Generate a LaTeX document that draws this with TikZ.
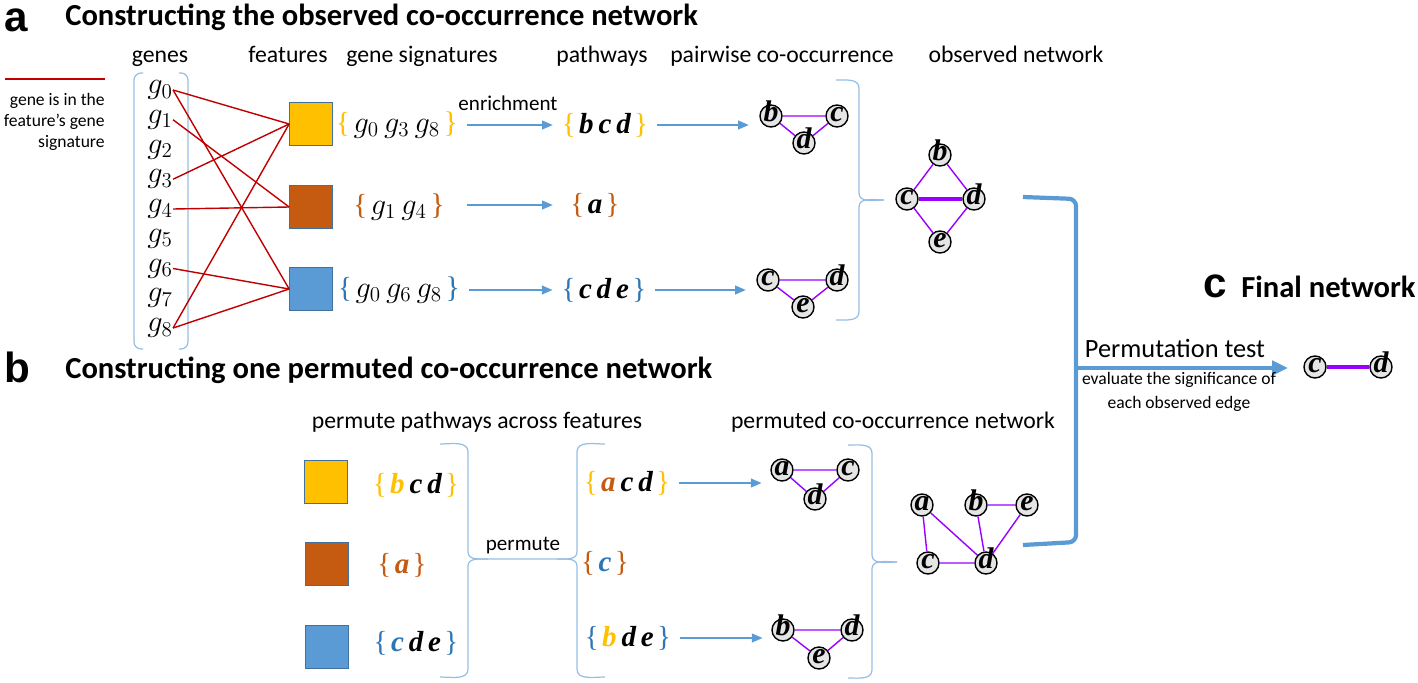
\documentclass[tikz,border=0pt]{standalone}
\usepackage[no-math]{fontspec}
\setmainfont{Carlito}
\newfontfamily\panelfont{Liberation Sans}
\newfontfamily\termfont{Liberation Serif}
\usepackage{bm}
\usetikzlibrary{arrows.meta}

\definecolor{featyellow}{RGB}{255,192,0}
\definecolor{featbrown}{RGB}{197,90,17}
\definecolor{featblue}{RGB}{91,155,213}
\definecolor{featborder}{RGB}{65,113,156}
\definecolor{setblue}{RGB}{46,117,182}
\definecolor{edgered}{RGB}{192,0,0}
\definecolor{netpurple}{RGB}{153,0,255}
\definecolor{bracelight}{RGB}{150,190,228}

\newcommand{\pset}[2]{{\color{#1}\{}\hspace{0.12em}#2\hspace{0.12em}{\color{#1}\}}}
\newcommand{\vtx}[1]{{\termfont\bfseries\itshape #1}}

\begin{document}
\begin{tikzpicture}[x=0.02cm, y=-0.02cm]
    \tikzstyle{gene} = [inner sep=0pt, font=\fontsize{17}{20}\selectfont]
    \tikzstyle{feat} = [rectangle, draw=featborder, line width=0.7pt, inner sep=0pt, minimum size=8.5mm]
    \tikzstyle{pway} = [inner sep=1pt, font=\termfont\fontsize{16.5}{20}\selectfont]
    \tikzstyle{term} = [circle, draw, line width=0.8pt, fill=gray!20, inner sep=0pt, minimum size=4.4mm, text height=1.2ex, text depth=0pt, font=\fontsize{17}{17}\selectfont]
    \tikzstyle{member} = [edgered, line width=0.8pt]
    \tikzstyle{flow} = [featblue, line width=0.8pt, shorten <=4pt, -{Triangle[length=6pt,width=5pt]}]
    \tikzstyle{cooc} = [netpurple, line width=0.8pt]
    \tikzstyle{strong} = [netpurple, line width=2.8pt]
    \tikzstyle{bracket} = [bracelight, line width=0.7pt]
    \tikzstyle{bigline} = [featblue, line width=2.4pt]
    \tikzstyle{colhead} = [anchor=base, inner sep=0pt, font=\fontsize{13.5}{16}\selectfont]
    \tikzstyle{panel} = [anchor=base west, inner sep=0pt, font=\panelfont\bfseries\fontsize{24}{28}\selectfont]
    \tikzstyle{heading} = [anchor=base west, inner sep=0pt, font=\bfseries\fontsize{17.4}{20}\selectfont]
    \useasboundingbox (0,0) rectangle (1418,683);

    % Panel a
    \node[panel] (la) at (4,31) {a};
    \node[heading] (ha) at (65,25) {Constructing the observed co-occurrence network};
    \node[colhead] (tgenes) at (160,62) {genes};
    \node[colhead] (tfeat) at (288,62) {features};
    \node[colhead] (tsig) at (422,62) {gene signatures};
    \node[colhead] (tpath) at (602,62) {pathways};
    \node[colhead] (tpair) at (782,62) {pairwise co-occurrence};
    \node[colhead] (tobs) at (1016,62) {observed network};

    % Legend
    \draw[edgered, line width=1.7pt] (5,79) -- (105,79);
    \node[anchor=north east, align=right, inner sep=0pt, font=\fontsize{10}{12}\selectfont] (legend) at (105,93) {gene is in the\\feature’s gene\\signature};

    % Genes
    \draw[bracket, rounded corners=4pt] (143,73) -- (134,73) -- (134,349) -- (143,349);
    \draw[bracket, rounded corners=4pt] (179,73) -- (188,73) -- (188,349) -- (179,349);
    \foreach \i in {0,...,8} {
        \node[gene] (g\i) at (160, 90+29.75*\i) {$g_{\i}$};
    }

    % Features
    \node[feat, fill=featyellow] (fy) at (311,124) {};
    \node[feat, fill=featbrown] (fb) at (311,207) {};
    \node[feat, fill=featblue] (fl) at (311,289) {};
    \foreach \g/\f in {0/fy, 3/fy, 8/fy, 1/fb, 4/fb, 0/fl, 6/fl, 8/fl} {
        \draw[member] (g\g.east) -- (\f.west);
    }

    % Gene signatures and pathways
    \node[pway] (sy) at (397,125) {\pset{featyellow}{\fontsize{17}{20}\selectfont$g_0\,g_3\,g_8$}};
    \node[pway] (sb) at (399,207) {\pset{featbrown}{\fontsize{17}{20}\selectfont$g_1\,g_4$}};
    \node[pway] (sl) at (399,290) {\pset{setblue}{\fontsize{17}{20}\selectfont$g_0\,g_6\,g_8$}};
    \node[pway] (py) at (605,125) {\pset{featyellow}{\vtx{b\,c\,d}}};
    \node[pway] (pb) at (595,205) {\pset{featbrown}{\vtx{a}}};
    \node[pway] (pl) at (604,290) {\pset{setblue}{\vtx{c\,d\,e}}};
    \draw[flow, shorten >=4pt] (sy) -- (sy -| py.west);
    \node[anchor=base, inner sep=0pt, font=\fontsize{12}{14}\selectfont] (enr) at (508,110) {enrichment};
    \draw[flow, shorten >=4pt] (sy.east |- pb) -- (py.west |- pb);
    \draw[flow, shorten >=4pt] (sl) -- (sl -| pl.west);

    % Pairwise co-occurrence
    \node[term] (t1b) at (771,116) {\vtx{b}};
    \node[term] (t1c) at (837,116) {\vtx{c}};
    \node[term] (t1d) at (804,143) {\vtx{d}};
    \node[term] (t2c) at (768,280) {\vtx{c}};
    \node[term] (t2d) at (837,280) {\vtx{d}};
    \node[term] (t2e) at (803,307) {\vtx{e}};
    \draw[cooc] (t1b) -- (t1c) -- (t1d) -- (t1b);
    \draw[cooc] (t2c) -- (t2d) -- (t2e) -- (t2c);
    \draw[flow, shorten >=6pt] (py) -- (py -| t1b.west);
    \draw[flow, shorten >=6pt] (pl) -- (pl -| t2c.west);
    \draw[bracket] (836,80) to[out=0,in=90] (859,88) -- (859,193) to[out=-90,in=180] (884,200);
    \draw[bracket] (884,200) to[out=180,in=90] (859,207) -- (859,312) to[out=-90,in=0] (836,320);

    % Observed network
    \node[term] (ob) at (940,155) {\vtx{b}};
    \node[term] (oc) at (907,199) {\vtx{c}};
    \node[term] (od) at (974,199) {\vtx{d}};
    \node[term] (oe) at (940,242) {\vtx{e}};
    \draw[cooc] (ob) -- (oc) -- (oe) -- (od) -- (ob);
    \draw[strong] (oc) -- (od);

    % Panel b
    \node[panel] (lb) at (4,382) {b};
    \node[heading] (hb) at (65,378) {Constructing one permuted co-occurrence network};
    \node[colhead] (tperm) at (477,428) {permute pathways across features};
    \node[colhead] (tpnet) at (893,428) {permuted co-occurrence network};

    \node[feat, fill=featyellow] (ky) at (326,482) {};
    \node[feat, fill=featbrown] (kb) at (327,564) {};
    \node[feat, fill=featblue] (kl) at (327,647) {};
    \node[pway] (uy) at (416,485) {\pset{featyellow}{\vtx{\textcolor{featyellow}{b}\,c\,d}}};
    \node[pway] (ub) at (402,565) {\pset{featbrown}{\vtx{\textcolor{featbrown}{a}}}};
    \node[pway] (ul) at (416,643) {\pset{setblue}{\vtx{\textcolor{setblue}{c}\,d\,e}}};
    \node[pway] (vy) at (627,483) {\pset{featyellow}{\vtx{\textcolor{featbrown}{a}\,c\,d}}};
    \node[pway] (vb) at (605,563) {\pset{featbrown}{\vtx{\textcolor{setblue}{c}}}};
    \node[pway] (vl) at (628,638) {\pset{setblue}{\vtx{\textcolor{featyellow}{b}\,d\,e}}};

    % Permute braces
    \draw[bracket] (440,444) to[out=0,in=90] (468,452) -- (468,552) to[out=-90,in=180] (488,559) -- (557,559) to[out=0,in=-90] (577,552) -- (577,452) to[out=90,in=180] (605,444);
    \draw[bracket] (440,677) to[out=0,in=-90] (468,669) -- (468,566) to[out=90,in=180] (488,559);
    \draw[bracket] (557,559) to[out=0,in=90] (577,566) -- (577,669) to[out=-90,in=180] (605,677);
    \node[anchor=base, inner sep=0pt, font=\fontsize{12}{14}\selectfont] (perm) at (523,550) {permute};

    % Permuted pairwise networks
    \node[term] (p1a) at (782,470) {\vtx{a}};
    \node[term] (p1c) at (848,470) {\vtx{c}};
    \node[term] (p1d) at (815,499) {\vtx{d}};
    \node[term] (p2b) at (783,630) {\vtx{b}};
    \node[term] (p2d) at (852,630) {\vtx{d}};
    \node[term] (p2e) at (819,658) {\vtx{e}};
    \draw[cooc] (p1a) -- (p1c) -- (p1d) -- (p1a);
    \draw[cooc] (p2b) -- (p2d) -- (p2e) -- (p2b);
    \draw[flow, shorten >=5pt] (vy) -- (vy -| p1a.west);
    \draw[flow, shorten >=5pt] (vl) -- (vl -| p2b.west);
    \draw[bracket] (848,445) to[out=0,in=90] (872,453) -- (872,555) to[out=-90,in=180] (897,562);
    \draw[bracket] (897,562) to[out=180,in=90] (872,569) -- (872,670) to[out=-90,in=0] (848,678);

    % Permuted network
    \node[term] (qa) at (922,505) {\vtx{a}};
    \node[term] (qb) at (976,505) {\vtx{b}};
    \node[term] (qe) at (1027,505) {\vtx{e}};
    \node[term] (qc) at (928,563) {\vtx{c}};
    \node[term] (qd) at (986,563) {\vtx{d}};
    \draw[cooc] (qa) -- (qc) -- (qd) -- (qa);
    \draw[cooc] (qb) -- (qd) -- (qe) -- (qb);

    % Permutation test
    \coordinate (obsend) at (1023,197);
    \coordinate (permend) at (1023,545);
    \coordinate (join) at (1076,368);
    \draw[bigline, rounded corners=4pt] (obsend) -- (1076,199) -- (1076,542) -- (permend);
    \node[term] (zc) at (1315,367) {\vtx{c}};
    \node[term] (zd) at (1381,367) {\vtx{d}};
    \draw[strong] (zc) -- (zd);
    \draw[bigline, -{Triangle[length=9pt,width=8pt]}, shorten >=5.4mm] (join) -- (join -| zc.center);
    \node[anchor=base, inner sep=0pt, font=\fontsize{15}{18}\selectfont] (ptest) at (1175,357) {Permutation test};
    \node[anchor=north, align=center, inner sep=0pt, font=\fontsize{10}{13.6}\selectfont] (pnote) at (1179,372) {evaluate the significance of\\each observed edge};

    % Panel c
    \node[panel] (lc) at (1203,297) {c};
    \node[heading] (hc) at (1241,297) {Final network};
\end{tikzpicture}
\end{document}
